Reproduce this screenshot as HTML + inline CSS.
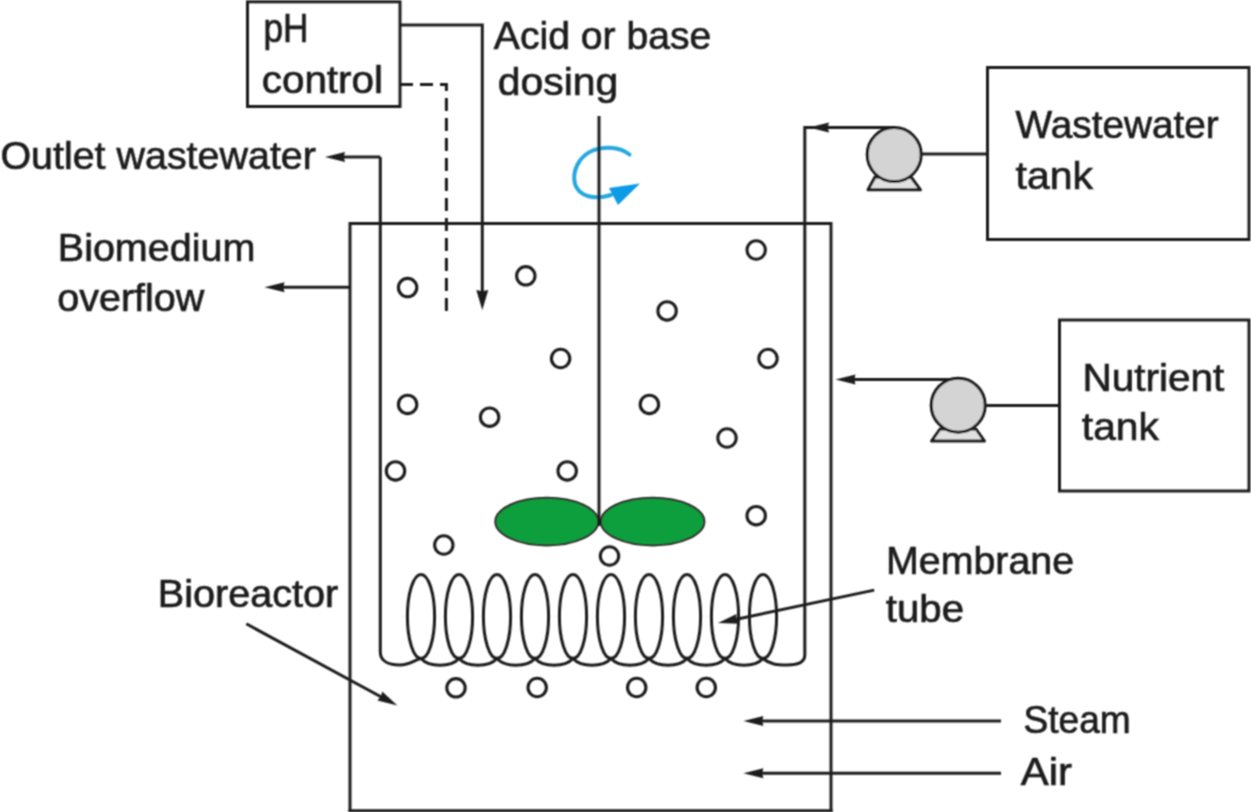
<!DOCTYPE html>
<html><head><meta charset="utf-8"><style>
html,body{margin:0;padding:0;background:#fff;width:1251px;height:812px;overflow:hidden}
svg{display:block;will-change:transform}
text{font-family:"Liberation Sans",sans-serif;font-size:39.5px;fill:#1e1e1e;stroke:#1e1e1e;stroke-width:0.7px}
</style></head><body>
<svg width="1251" height="812" viewBox="0 0 1251 812">
<defs><filter id="soft" x="-1%" y="-1%" width="102%" height="102%"><feConvolveMatrix order="3" kernelMatrix="1 2 1 2 4 2 1 2 1" divisor="16" edgeMode="none"/></filter></defs>
<rect width="1251" height="812" fill="#fff"/>
<g filter="url(#soft)">
<rect x="247.5" y="1.8" width="152.5" height="104.7" fill="none" stroke="#1e1e1e" stroke-width="3"/>
<rect x="987.5" y="67.5" width="261.5" height="172" fill="none" stroke="#1e1e1e" stroke-width="3"/>
<rect x="1059.5" y="320" width="189.5" height="171" fill="none" stroke="#1e1e1e" stroke-width="3"/>
<path d="M350,812 L350,223.5 L831,223.5 L831,812" fill="none" stroke="#1e1e1e" stroke-width="3"/>
<path d="M348.5,810.8 L832.5,810.8" fill="none" stroke="#1e1e1e" stroke-width="3"/>
<path d="M400,25 L482.3,25 L482.3,295" fill="none" stroke="#1e1e1e" stroke-width="3"/>
<path d="M482.3,310.0 L476.3,290.0 L482.3,291.2 L488.3,290.0 Z" fill="#1e1e1e" stroke="none"/>
<path d="M400,84.5 L446.4,84.5 L446.4,311" fill="none" stroke="#1e1e1e" stroke-width="3" stroke-dasharray="13,7"/>
<path d="M380.3,157 L380.3,652 C380.3,662 390,665 400,665 C410,665 415,659.5 421,658.5 C429,667.5 451,667.5 459,658.5 C467,667.5 489,667.5 497,658.5 C505,667.5 527,667.5 535,658.5 C543,667.5 565,667.5 573,658.5 C581,667.5 603,667.5 611,658.5 C619,667.5 641,667.5 649,658.5 C657,667.5 679,667.5 687,658.5 C695,667.5 717,667.5 725,658.5 C733,667.5 755,667.5 763,658.5 C770,664.5 777,665 787,665 C799,665 804.8,662 804.8,655 L804.8,127.4 L825,127.4" fill="none" stroke="#1e1e1e" stroke-width="3"/>
<ellipse cx="421" cy="616.5" rx="13.6" ry="42" fill="none" stroke="#1e1e1e" stroke-width="3"/>
<ellipse cx="459" cy="616.5" rx="13.6" ry="42" fill="none" stroke="#1e1e1e" stroke-width="3"/>
<ellipse cx="497" cy="616.5" rx="13.6" ry="42" fill="none" stroke="#1e1e1e" stroke-width="3"/>
<ellipse cx="535" cy="616.5" rx="13.6" ry="42" fill="none" stroke="#1e1e1e" stroke-width="3"/>
<ellipse cx="573" cy="616.5" rx="13.6" ry="42" fill="none" stroke="#1e1e1e" stroke-width="3"/>
<ellipse cx="611" cy="616.5" rx="13.6" ry="42" fill="none" stroke="#1e1e1e" stroke-width="3"/>
<ellipse cx="649" cy="616.5" rx="13.6" ry="42" fill="none" stroke="#1e1e1e" stroke-width="3"/>
<ellipse cx="687" cy="616.5" rx="13.6" ry="42" fill="none" stroke="#1e1e1e" stroke-width="3"/>
<ellipse cx="725" cy="616.5" rx="13.6" ry="42" fill="none" stroke="#1e1e1e" stroke-width="3"/>
<ellipse cx="763" cy="616.5" rx="13.6" ry="42" fill="none" stroke="#1e1e1e" stroke-width="3"/>
<path d="M340,157 L380.3,157" fill="none" stroke="#1e1e1e" stroke-width="3"/>
<path d="M325.0,157.0 L345.0,152.0 L343.8,157.0 L345.0,162.0 Z" fill="#1e1e1e" stroke="none"/>
<path d="M278,287.3 L350,287.3" fill="none" stroke="#1e1e1e" stroke-width="3"/>
<path d="M264.5,287.3 L284.5,282.3 L283.3,287.3 L284.5,292.3 Z" fill="#1e1e1e" stroke="none"/>
<path d="M825,127.4 L894,127.4" fill="none" stroke="#1e1e1e" stroke-width="3"/>
<path d="M809.0,127.4 L829.0,122.4 L827.8,127.4 L829.0,132.4 Z" fill="#1e1e1e" stroke="none"/>
<path d="M868,189.8 L920.5,189.8 L911,177 L875,177 Z" fill="#e0e0e0" stroke="#1e1e1e" stroke-width="3" stroke-linejoin="round"/>
<circle cx="894.2" cy="154.6" r="27" fill="#d4d4d4" stroke="#1e1e1e" stroke-width="3"/>
<path d="M921,154 L987.5,154" fill="none" stroke="#1e1e1e" stroke-width="3"/>
<path d="M850,379.4 L958,379.4" fill="none" stroke="#1e1e1e" stroke-width="3"/>
<path d="M835.5,379.4 L855.5,374.4 L854.3,379.4 L855.5,384.4 Z" fill="#1e1e1e" stroke="none"/>
<path d="M931.5,441 L984.5,441 L976,429 L940,429 Z" fill="#e0e0e0" stroke="#1e1e1e" stroke-width="3" stroke-linejoin="round"/>
<circle cx="958.2" cy="405.2" r="27" fill="#d4d4d4" stroke="#1e1e1e" stroke-width="3"/>
<path d="M985,405.4 L1059.5,405.4" fill="none" stroke="#1e1e1e" stroke-width="3"/>
<path d="M758,721 L1001,721" fill="none" stroke="#1e1e1e" stroke-width="3"/>
<path d="M743.4,721.0 L763.4,716.0 L762.2,721.0 L763.4,726.0 Z" fill="#1e1e1e" stroke="none"/>
<path d="M758,773.3 L1001,773.3" fill="none" stroke="#1e1e1e" stroke-width="3"/>
<path d="M743.4,773.3 L763.4,768.3 L762.2,773.3 L763.4,778.3 Z" fill="#1e1e1e" stroke="none"/>
<path d="M246.3,623.8 L385,699" fill="none" stroke="#1e1e1e" stroke-width="3"/>
<path d="M397.4,705.5 L377.4,700.4 L380.9,696.6 L382.2,691.6 Z" fill="#1e1e1e" stroke="none"/>
<path d="M874.2,590.1 L733,620" fill="none" stroke="#1e1e1e" stroke-width="3"/>
<path d="M718.0,623.0 L736.5,614.0 L736.4,619.1 L738.6,623.8 Z" fill="#1e1e1e" stroke="none"/>
<ellipse cx="546.8" cy="521.6" rx="51.5" ry="23.8" fill="#0f9e3c" stroke="#2a2a2a" stroke-width="2"/>
<ellipse cx="652.6" cy="521.6" rx="51.8" ry="23.8" fill="#0f9e3c" stroke="#2a2a2a" stroke-width="2"/>
<path d="M629.5,154.5 C620,147 606,146 594,150 C578,156 572,172 575,184 C579,197 595,200 611,195" fill="none" stroke="#25a7e0" stroke-width="4" stroke-linecap="round"/>
<path d="M609,188 L640,183.5 L618,205 Z" fill="#0a9ae6"/>
<path d="M599,116 L599,526" fill="none" stroke="#1e1e1e" stroke-width="3"/>
<circle cx="407.6" cy="287.6" r="9.2" fill="none" stroke="#1e1e1e" stroke-width="3.1"/>
<circle cx="525.8" cy="275.8" r="9.2" fill="none" stroke="#1e1e1e" stroke-width="3.1"/>
<circle cx="756.2" cy="250" r="9.2" fill="none" stroke="#1e1e1e" stroke-width="3.1"/>
<circle cx="667.1" cy="310.9" r="9.2" fill="none" stroke="#1e1e1e" stroke-width="3.1"/>
<circle cx="560.6" cy="358.5" r="9.2" fill="none" stroke="#1e1e1e" stroke-width="3.1"/>
<circle cx="768" cy="358.5" r="9.2" fill="none" stroke="#1e1e1e" stroke-width="3.1"/>
<circle cx="407.6" cy="404.4" r="9.2" fill="none" stroke="#1e1e1e" stroke-width="3.1"/>
<circle cx="489.6" cy="417.2" r="9.2" fill="none" stroke="#1e1e1e" stroke-width="3.1"/>
<circle cx="649.4" cy="404.4" r="9.2" fill="none" stroke="#1e1e1e" stroke-width="3.1"/>
<circle cx="727" cy="438" r="9.2" fill="none" stroke="#1e1e1e" stroke-width="3.1"/>
<circle cx="395.5" cy="470.9" r="9.2" fill="none" stroke="#1e1e1e" stroke-width="3.1"/>
<circle cx="567.2" cy="470.9" r="9.2" fill="none" stroke="#1e1e1e" stroke-width="3.1"/>
<circle cx="756.2" cy="515.7" r="9.2" fill="none" stroke="#1e1e1e" stroke-width="3.1"/>
<circle cx="443.8" cy="545" r="9.2" fill="none" stroke="#1e1e1e" stroke-width="3.1"/>
<circle cx="609.5" cy="556" r="9.2" fill="none" stroke="#1e1e1e" stroke-width="3.1"/>
<circle cx="456" cy="687.8" r="9.2" fill="none" stroke="#1e1e1e" stroke-width="3.1"/>
<circle cx="537.2" cy="687.5" r="9.2" fill="none" stroke="#1e1e1e" stroke-width="3.1"/>
<circle cx="636.7" cy="687.5" r="9.2" fill="none" stroke="#1e1e1e" stroke-width="3.1"/>
<circle cx="706.3" cy="687.5" r="9.2" fill="none" stroke="#1e1e1e" stroke-width="3.1"/>
<text x="263.4" y="42.2" style="font-size:41.5px" textLength="45.0" lengthAdjust="spacingAndGlyphs">pH</text>
<text x="261.8" y="92.8" textLength="121.1" lengthAdjust="spacingAndGlyphs">control</text>
<text x="493.8" y="49.1" textLength="217.5" lengthAdjust="spacingAndGlyphs">Acid or base</text>
<text x="497.8" y="95.1" textLength="120.5" lengthAdjust="spacingAndGlyphs">dosing</text>
<text x="0.4" y="168.7" textLength="315.5" lengthAdjust="spacingAndGlyphs">Outlet wastewater</text>
<text x="57.8" y="261.4" textLength="197.5" lengthAdjust="spacingAndGlyphs">Biomedium</text>
<text x="57.3" y="310.7" textLength="147.0" lengthAdjust="spacingAndGlyphs">overflow</text>
<text x="1015.6" y="138.1" textLength="203.2" lengthAdjust="spacingAndGlyphs">Wastewater</text>
<text x="1015.6" y="188.7" textLength="77.5" lengthAdjust="spacingAndGlyphs">tank</text>
<text x="1082.4" y="391.0" textLength="141.9" lengthAdjust="spacingAndGlyphs">Nutrient</text>
<text x="1081.8" y="440.2" textLength="77.1" lengthAdjust="spacingAndGlyphs">tank</text>
<text x="157.8" y="606.6" textLength="180.5" lengthAdjust="spacingAndGlyphs">Bioreactor</text>
<text x="886.0" y="573.6" textLength="188.1" lengthAdjust="spacingAndGlyphs">Membrane</text>
<text x="885.8" y="622.1" textLength="78.2" lengthAdjust="spacingAndGlyphs">tube</text>
<text x="1023.5" y="732.7" textLength="107.3" lengthAdjust="spacingAndGlyphs">Steam</text>
<text x="1020.8" y="784.7" textLength="51.2" lengthAdjust="spacingAndGlyphs">Air</text>
</g>
</svg>
</body></html>
